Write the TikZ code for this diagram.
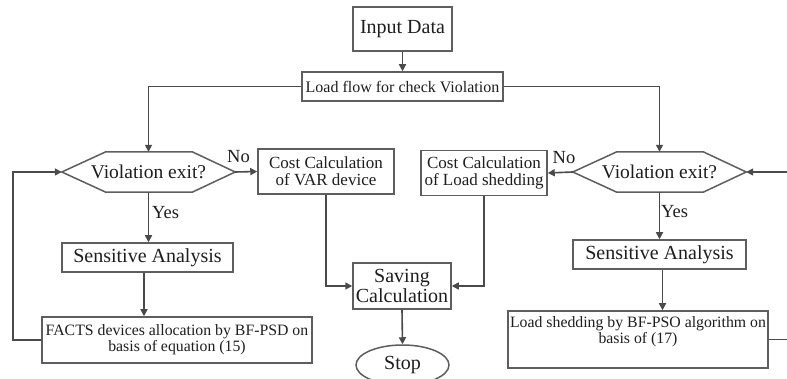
\documentclass[tikz,border=0pt]{standalone}
\usepackage{fontspec}
\setmainfont{Liberation Serif}
\usetikzlibrary{arrows.meta,calc,shapes.geometric}
\definecolor{linec}{HTML}{4A4A4A}
\definecolor{boxc}{HTML}{5E5E5E}
\definecolor{txtc}{HTML}{1E1E1E}
\tikzset{
  box/.style={draw=boxc, line width=1.5pt, rectangle, inner sep=0pt, align=center, text=txtc},
  hexnode/.style={rectangle, inner sep=0pt, align=center, text=txtc, minimum width=173pt, minimum height=40pt, font=\fontsize{19.5}{19.5}\selectfont},
  hexline/.style={draw=boxc, line width=1.5pt, line join=miter},
  conn/.style={draw=linec, line width=1.6pt},
  arr/.style={conn, -{Triangle[length=7pt,width=7pt]}},
  lbl/.style={inner sep=0pt, text=txtc, font=\fontsize{18.5}{18.5}\selectfont},
  fs/.style={font=\fontsize{#1}{#1}\selectfont}
}
\begin{document}
\begin{tikzpicture}[x=1pt,y=-1pt]
\path[use as bounding box, clip] (0,0) rectangle (787,379);
\fill[white] (0,0) rectangle (787,379);

% nodes
\node[box, fs=20, minimum width=99pt, minimum height=44pt] (inp) at (402.5,29) {Input Data};
\node[box, fs=16, minimum width=201pt, minimum height=29pt] (lf) at (402.5,86.5) {Load flow for check Violation};
\node[hexnode] (hL) at (148.5,172) {Violation exit?};
\node[hexnode] (hR) at (659.5,172) {Violation exit?};
\node[box, fs=17, minimum width=136pt, minimum height=45pt] (varc) at (326,171.5) {Cost Calculation\\of VAR device};
\node[box, fs=17, minimum width=126pt, minimum height=45pt] (lsc) at (484,173) {Cost Calculation\\of Load shedding};
\node[box, fs=20, minimum width=171pt, minimum height=29pt] (saL) at (147.5,257.5) {Sensitive Analysis};
\node[box, fs=15.8, minimum width=270pt, minimum height=46pt] (facts) at (177,340) {FACTS devices allocation by BF-PSD on\\basis of equation (15)};
\node[box, fs=20, minimum width=98pt, minimum height=46pt] (sav) at (402,286) {Saving\\Calculation};
\node[draw=boxc, line width=1.5pt, ellipse, inner sep=0pt, minimum width=93pt, minimum height=40pt, fs=20, text=txtc] (stop) at (402.5,365) {Stop};
\node[box, fs=15.8, minimum width=260pt, minimum height=57pt] (lsb) at (638,339.5) {Load shedding by BF-PSO algorithm on\\basis of (17)\\[3pt]};
\node[box, fs=20, minimum width=173pt, minimum height=29pt] (saR) at (659.5,254.5) {Sensitive Analysis};

% hexagon outlines
\draw[hexline] (hL.west) -- ($(hL.north west)+(44,0)$) -- ($(hL.north east)+(-43,0)$) -- (hL.east) -- ($(hL.south east)+(-43,0)$) -- ($(hL.south west)+(44,0)$) -- cycle;
\draw[hexline] (hR.west) -- ($(hR.north west)+(44,0)$) -- ($(hR.north east)+(-43,0)$) -- (hR.east) -- ($(hR.south east)+(-43,0)$) -- ($(hR.south west)+(44,0)$) -- cycle;

% labels
\node[lbl, anchor=center] (noL) at (238.5,157) {No};
\node[lbl, anchor=center] (noR) at (564,158) {No};
\node[lbl, anchor=west] (yesL) at (152,213) {Yes};
\node[lbl, anchor=west] (yesR) at (661,212) {Yes};

% free ends
\coordinate (loopL) at (13,340);
\coordinate (loopLt) at (13,172);
\coordinate (inR) at (790,172);
\coordinate (outR) at (790,339.5);

% connectors
\draw[arr] (inp.south) -- (lf.north);
\draw[arr] (lf.west) -| (hL.north);
\draw[arr] (lf.east) -| (hR.north);
\draw[arr] (hL.east) -- (varc.west);
\draw[arr] (hR.west) -- (lsc.east);
\draw[arr] (hL.south) -- (hL.south |- saL.north);
\draw[arr] (hR.south) -- (hR.south |- saR.north);
\draw[arr] ([xshift=-3.5pt]saL.south) -- ([xshift=-3.5pt]saL.south |- facts.north);
\draw[arr] ([xshift=3pt]saR.south) -- ([xshift=3pt]saR.south |- lsb.north);
\draw[arr] (facts.west) -- (loopL) -- (loopLt) -- (hL.west);
\draw[arr] (varc.south) |- (sav.west);
\draw[arr] (lsc.south) |- (sav.east);
\draw[arr] (sav.south) -- (stop.north);
\draw[arr] (inR) -- (hR.east);
\draw[conn] (lsb.east) -- (outR);
\end{tikzpicture}
\end{document}
